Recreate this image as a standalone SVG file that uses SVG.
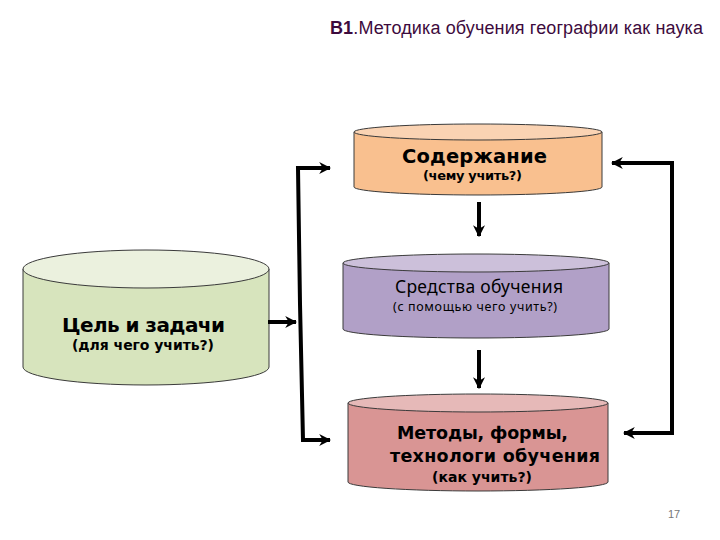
<svg xmlns="http://www.w3.org/2000/svg" width="720" height="540" viewBox="0 0 720 540">
<style>
.body{stroke:#3a3a3a;stroke-width:1}
.top{stroke:#3a3a3a;stroke-width:1}
.conn{fill:none;stroke:#000;stroke-width:4;stroke-linejoin:miter}
.vb{font-family:"DejaVu Sans",Verdana,sans-serif;font-weight:bold;fill:#000}
.cal{font-family:"Noto Sans","Open Sans",sans-serif;fill:#000}
</style>
<defs>
<marker id="ah" viewBox="0 0 10 10" refX="9" refY="5" markerWidth="3" markerHeight="3" orient="auto" markerUnits="strokeWidth">
<path d="M0,0 L10,5 L0,10 L3,5 Z" fill="#000"/>
</marker>
</defs>
<rect width="720" height="540" fill="#fff"/>
<text x="330" y="34" font-family="'Liberation Sans',Arial,sans-serif" font-size="18" fill="#3d0b3d" textLength="373"><tspan font-weight="bold">В1</tspan>.Методика обучения географии как наука</text>

<g id="node-soderzhanie">
<path class="body" fill="#f9c08f" d="M354,132 L354,187 A124,8 0 0 0 602,187 L602,132 Z"/>
<ellipse class="top" cx="478" cy="132" rx="124" ry="8" fill="#fad3b3"/>
<text class="vb" x="402" y="163" font-size="19.5" textLength="145">Содержание</text>
<text class="vb" x="423" y="180" font-size="13" textLength="99">(чему учить?)</text>
</g>

<g id="node-sredstva">
<path class="body" fill="#b1a0c7" d="M343,263 L343,329 A133,9 0 0 0 609,329 L609,263 Z"/>
<ellipse class="top" cx="476" cy="263" rx="133" ry="9" fill="#ccc0da"/>
<text class="cal" x="395" y="293" font-size="17.5" textLength="168">Средства обучения</text>
<text class="cal" x="393" y="311" font-size="12.5" textLength="164">(с помощью чего учить?)</text>
</g>

<g id="node-metody">
<path class="body" fill="#d99594" d="M348,403 L348,482 A130,9 0 0 0 608,482 L608,403 Z"/>
<ellipse class="top" cx="478" cy="403" rx="130" ry="9" fill="#e6b9b8"/>
<text class="vb" x="397" y="439" font-size="17.5" textLength="171">Методы, формы,</text>
<text class="vb" x="390" y="462" font-size="17.5" textLength="210">технологи обучения</text>
<text class="vb" x="432" y="482" font-size="14" textLength="100">(как учить?)</text>
</g>

<g id="node-cel">
<path class="body" fill="#d7e4bd" d="M23,269 L23,367 A123,18 0 0 0 269,367 L269,269 Z"/>
<ellipse class="top" cx="146" cy="269" rx="123" ry="19" fill="#ebf1de"/>
<text class="vb" x="62" y="332" font-size="20" textLength="163">Цель и задачи</text>
<text class="vb" x="72" y="350" font-size="14" textLength="142">(для чего учить?)</text>
</g>

<g id="connectors">
<path class="conn" d="M268,322 L296,322" marker-end="url(#ah)"/>
<path class="conn" d="M300,304 L298,168 L330,168" marker-end="url(#ah)"/>
<path class="conn" d="M300,304 L303,440 L330,440" marker-end="url(#ah)"/>
<path class="conn" d="M672,300 L672,163 L612,163" marker-end="url(#ah)"/>
<path class="conn" d="M672,300 L672,433 L624,433" marker-end="url(#ah)"/>
<path class="conn" d="M479,202 L479,236" marker-end="url(#ah)"/>
<path class="conn" d="M479,350 L479,388" marker-end="url(#ah)"/>
</g>
<text x="668" y="518" font-family="'Liberation Sans',Arial,sans-serif" font-size="11" fill="#777">17</text>
</svg>
